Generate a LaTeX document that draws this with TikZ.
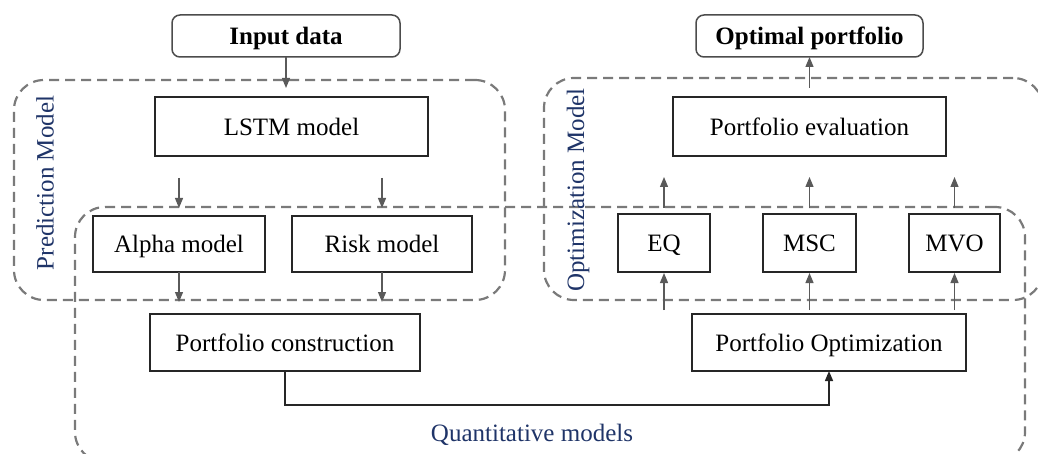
\documentclass[tikz,border=0pt]{standalone}
\usepackage{fontspec}
\setmainfont{Liberation Serif}
\usetikzlibrary{arrows.meta,calc}
\definecolor{lblue}{HTML}{1F3468}
\definecolor{dgray}{HTML}{7A7A7A}
\definecolor{agray}{HTML}{5A5A5A}
\begin{document}
\begin{tikzpicture}[x=1pt,y=-1pt,
  every node/.style={font=\fontsize{25}{30}\selectfont},
  blk/.style={draw=black!85, line width=1.5pt, fill=white, inner sep=0pt, outer sep=0pt, text height=18pt, text depth=0pt},
  term/.style={blk, draw=black!70, rounded corners=8pt, font=\fontsize{25}{30}\selectfont\bfseries},
  grp/.style={draw=dgray, line width=2.2pt, dash pattern=on 10pt off 6pt, rounded corners=30pt, inner sep=0pt, outer sep=0pt},
  lbl/.style={text=lblue, inner sep=0pt},
  arr/.style={draw=agray, line width=1.2pt, -{Triangle[length=10pt,width=8pt]}}
]
\useasboundingbox (0,0) rectangle (1038,454);
% group frames
\node[grp, minimum width=491pt, minimum height=220pt] (pred) at (259.5,190) {};
\node[grp, minimum width=499pt, minimum height=222pt] (optm) at (793.5,189) {};
\node[grp, minimum width=950pt, minimum height=255pt] (quant) at (550,334.5) {};
\node[lbl, rotate=90] (predl) at (45,183) {Prediction Model};
\node[lbl, rotate=90] (optml) at (578,190) {Optimization Model};
\node[lbl] (quantl) at (532,435) {Quantitative models};
% blocks
\node[term, minimum width=228pt, minimum height=42pt] (in) at (286,36) {Input data};
\node[term, minimum width=227pt, minimum height=42pt] (out) at (809.5,36) {Optimal portfolio};
\node[blk, minimum width=273pt, minimum height=59pt] (lstm) at (291.5,126.5) {LSTM model};
\node[blk, minimum width=172pt, minimum height=56pt] (alpha) at (179,244) {Alpha model};
\node[blk, minimum width=180pt, minimum height=56pt] (risk) at (382,244) {Risk model};
\node[blk, minimum width=270pt, minimum height=57pt] (pc) at (285,342.5) {Portfolio construction};
\node[blk, minimum width=273pt, minimum height=59pt] (pe) at (809.5,126.5) {Portfolio evaluation};
\node[blk, minimum width=92pt, minimum height=58pt] (eq) at (664,243) {EQ};
\node[blk, minimum width=93pt, minimum height=58pt] (msc) at (809.5,243) {MSC};
\node[blk, minimum width=91pt, minimum height=58pt] (mvo) at (954.5,243) {MVO};
\node[blk, minimum width=274pt, minimum height=57pt] (po) at (829,342.5) {Portfolio Optimization};
% connectors
\draw[arr, shorten >=9pt] (in.south) -- (in.south |- lstm.north);
\draw[arr, shorten <=22pt, shorten >=8pt] (lstm.south -| alpha.north) -- (alpha.north);
\draw[arr, shorten <=22pt, shorten >=8pt] (lstm.south -| risk.north) -- (risk.north);
\draw[arr, shorten >=12pt] (alpha.south) -- (alpha.south |- pc.north);
\draw[arr, shorten >=12pt] (risk.south) -- (risk.south |- pc.north);
\draw[arr, draw=black!85, line width=1.5pt] (pc.south) -- ++(0,34) -| (po.south);
\draw[arr, shorten <=4pt, shorten >=1pt] (po.north -| eq.south) -- (eq.south);
\draw[arr, shorten <=4pt, shorten >=1pt] (po.north -| msc.south) -- (msc.south);
\draw[arr, shorten <=4pt, shorten >=1pt] (po.north -| mvo.south) -- (mvo.south);
\draw[arr, shorten <=6pt, shorten >=21pt] (eq.north) -- (eq.north |- pe.south);
\draw[arr, shorten <=6pt, shorten >=21pt] (msc.north) -- (msc.north |- pe.south);
\draw[arr, shorten <=6pt, shorten >=21pt] (mvo.north) -- (mvo.north |- pe.south);
\draw[arr, shorten <=9pt] (pe.north) -- (out.south);
\end{tikzpicture}
\end{document}
